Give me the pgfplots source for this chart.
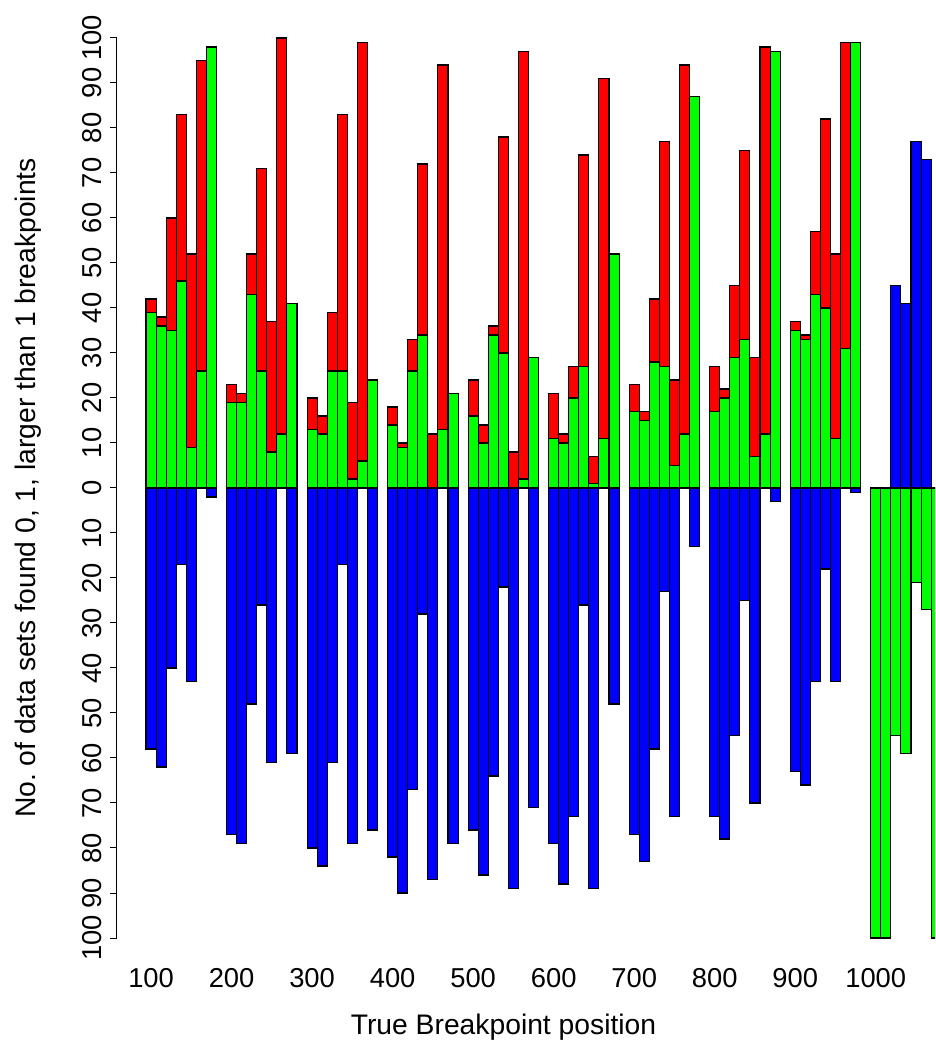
\documentclass[border=0pt]{standalone}
\usepackage{pgfplots}
\usepackage{pgfplotstable}
\pgfplotsset{compat=1.18}
\usepackage{fontspec}
\setmainfont{Liberation Sans}

\definecolor{rgreen}{RGB}{0,255,0}
\definecolor{rred}{RGB}{255,0,0}
\definecolor{rblue}{RGB}{0,0,255}

% x: bar position; tot: green+red (total found >=1); grn: found exactly 1; blu: found 0 (negative)
\pgfplotstableread{
x tot grn blu
100 42 39 -58
112.5 38 36 -62
125 60 35 -40
137.5 83 46 -17
150 52 9 -43
162.5 95 26 0
175 98 98 -2
200 23 19 -77
212.5 21 19 -79
225 52 43 -48
237.5 71 26 -26
250 37 8 -61
262.5 100 12 0
275 41 41 -59
300 20 13 -80
312.5 16 12 -84
325 39 26 -61
337.5 83 26 -17
350 19 2 -79
362.5 99 6 0
375 24 24 -76
400 18 14 -82
412.5 10 9 -90
425 33 26 -67
437.5 72 34 -28
450 12 0 -87
462.5 94 13 0
475 21 21 -79
500 24 16 -76
512.5 14 10 -86
525 36 34 -64
537.5 78 30 -22
550 8 0 -89
562.5 97 2 0
575 29 29 -71
600 21 11 -79
612.5 12 10 -88
625 27 20 -73
637.5 74 27 -26
650 7 1 -89
662.5 91 11 0
675 52 52 -48
700 23 17 -77
712.5 17 15 -83
725 42 28 -58
737.5 77 27 -23
750 24 5 -73
762.5 94 12 0
775 87 87 -13
800 27 17 -73
812.5 22 20 -78
825 45 29 -55
837.5 75 33 -25
850 29 7 -70
862.5 98 12 0
875 97 97 -3
900 37 35 -63
912.5 34 33 -66
925 57 43 -43
937.5 82 40 -18
950 52 11 -43
962.5 99 31 0
975 99 99 -1
}\maindata

% last group: green drawn downward, blue upward
\pgfplotstableread{
x gneg bpos
1000 -100 0
1012.5 -100 0
1025 -55 45
1037.5 -59 41
1050 -21 77
1062.5 -27 73
1075 -100 0
}\lastdata

\pgfplotsset{
  rbar/.style={ybar, bar width=12.5, bar shift=0pt, draw=black, line width=0.8pt},
}

\begin{document}
\begin{tikzpicture}
\begin{axis}[
  scale only axis,
  width=613.5pt, height=675pt,
  xmin=57.7, xmax=1073.6,
  ymin=-100, ymax=100,
  axis y line*=left,
  axis x line*=bottom,
  x axis line style={draw=none},
  xtick={100,200,...,1000},
  xtick style={draw=none},
  ytick={-100,-90,...,100},
  tick align=outside,
  major tick length=5.25pt,
  ytick style={line width=0.75pt, black},
  y axis line style={line width=0.75pt},
  /pgf/number format/assume math mode=true,
  /pgf/number format/1000 sep={},
  yticklabel={\pgfmathparse{abs(\tick)}\pgfmathprintnumber[fixed,precision=0]{\pgfmathresult}},
  yticklabel style={rotate=90, anchor=south, font=\fontsize{20.5}{24}\selectfont},
  yticklabel shift=3pt,
  xticklabel style={anchor=center, yshift=-24.5pt, font=\fontsize{20.5}{24}\selectfont},
  xlabel={True Breakpoint position},
  ylabel={No.\ of data sets found 0, 1, larger than 1 breakpoints},
  xlabel style={at={(axis description cs:0.4725,-0.0989)}, anchor=center, font=\fontsize{21.2}{25}\selectfont},
  ylabel style={at={(axis description cs:-0.1088,0.5)}, anchor=center, font=\fontsize{21.2}{25}\selectfont},
  clip=true,
]
\addplot[rbar, fill=rred] table[x=x, y=tot] {\maindata};
\addplot[rbar, fill=rgreen] table[x=x, y=grn] {\maindata};
\addplot[rbar, fill=rblue] table[x=x, y=blu] {\maindata};
\addplot[rbar, fill=rgreen] table[x=x, y=gneg] {\lastdata};
\addplot[rbar, fill=rblue] table[x=x, y=bpos] {\lastdata};
\coordinate (bl) at (rel axis cs:0,0);
\coordinate (tr) at (rel axis cs:1,1);
\end{axis}
\pgfresetboundingbox
\path[use as bounding box] ([xshift=-87.75pt,yshift=-78pt]bl) rectangle ([yshift=28.5pt]tr);
\end{tikzpicture}
\end{document}
